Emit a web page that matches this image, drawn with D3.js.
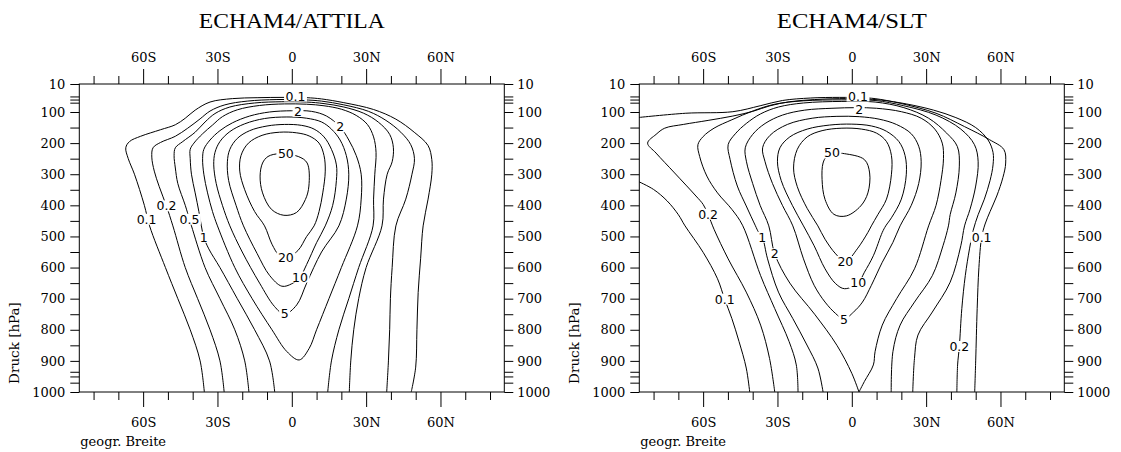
<!DOCTYPE html>
<html>
<head>
<meta charset="utf-8">
<script src="https://cdn.jsdelivr.net/npm/d3@7"></script>
<style>
  body { margin: 0; background: #fff; }
  svg text { fill: #000; }
</style>
</head>
<body>
<svg id="chart" width="1121" height="452"></svg>
<script>
// ---- axis values ----
const latMajor = [-60, -30, 0, 30, 60];
const latMajorLabels = ["60S", "30S", "0", "30N", "60N"];
const latMinor = [-80, -70, -50, -40, -20, -10, 10, 20, 40, 50, 70, 80];
const pressLabels = [10, 100, 200, 300, 400, 500, 600, 700, 800, 900, 1000];
const pressMinor = [50, 60, 70, 150, 250, 350, 450, 550, 650, 750, 850, 935, 950, 970];
const latDomain = [-85.76, 85.76];
const pressDomain = [10, 1000];

// ---- ECHAM4/ATTILA contours: [latitude, pressure hPa] ----
const attila01 = [[-35.3,1000],[-37,900],[-41,800],[-46,700],[-51,600],[-57.4,466],[-59.5,400],[-63.5,300],[-66,250],[-67,215],[-65.5,195],[-61,178],[-53,157],[-47,141],[-43,120],[-39,94],[-33,68],[-24,57],[-14,54],[-3,53],[6,54],[12,58],[21,70],[33,92],[42,123],[49.4,165],[55,208],[56.5,253],[56.5,300],[55,380],[53,466],[52,570],[51,680],[50.5,800],[50,920],[48.2,1000]];
const attila02 = [[-27.3,1000],[-29,900],[-33,800],[-38,700],[-43,600],[-48,466],[-50.6,402],[-53.5,340],[-55.5,290],[-56.5,245],[-56,215],[-53,198],[-47,178],[-42,152],[-37,122],[-33,97],[-27,77],[-18,65],[-6,60],[5,61],[12,65],[21,77],[31,98],[38,127],[44,165],[48,205],[49.5,250],[48.5,300],[46,380],[42,466],[40.5,600],[39.8,700],[39.5,800],[39,900],[38.3,1000]];
const attila05 = [[-17.3,1000],[-19,900],[-23,800],[-29,700],[-35,600],[-40.5,466],[-41.3,445],[-43,400],[-46,330],[-47,280],[-47.5,240],[-47,215],[-44,195],[-39,165],[-35,132],[-31,105],[-25,84],[-15,71],[-4,67],[6,68],[13,73],[21,84],[29,104],[35,133],[39.5,172],[41,215],[40.5,260],[38.5,300],[37,380],[36.4,466],[30,600],[27,700],[25,800],[23.8,900],[23.2,1000]];
const attila1 = [[-6.9,1000],[-9,900],[-15,800],[-22,700],[-29,600],[-33.5,540],[-35.5,503],[-36.5,466],[-37.5,420],[-39,360],[-40.5,300],[-41,250],[-41,220],[-39.5,200],[-36,170],[-32,142],[-28,115],[-22,93],[-13,79],[-3,74],[6,75],[13,80],[20,91],[26,111],[30.5,140],[33,180],[34,230],[33.5,300],[33,380],[32.8,466],[27,600],[23,700],[19,800],[16,900],[14.5,1000]];
const attila2 = [[-30,466],[-32,420],[-34,360],[-35.5,300],[-36,250],[-35.5,220],[-33,190],[-29,160],[-24,135],[-17,113],[-9,100],[0,96],[8,98],[14,113],[19.5,148],[23,190],[26,240],[28,300],[28,380],[26.5,466],[20,600],[15,700],[10,800],[7,860],[3,897],[-2,870],[-8,800],[-16,700],[-23,600]];
const attila5 = [[-25,466],[-28,400],[-30.5,330],[-31.5,270],[-31,230],[-29,195],[-25,163],[-19,138],[-11,121],[-2,116],[6,120],[12,132],[16,155],[19.5,190],[22,240],[23,300],[22,380],[19,466],[12,550],[6,650],[2,720],[-3,750],[-7,725],[-13,650],[-20,550]];
const attila10 = [[-19.5,466],[-22.5,400],[-25.5,320],[-26,260],[-25,220],[-22,185],[-17,160],[-10,145],[-3,140],[4,143],[9,155],[13,180],[16,220],[18,270],[18,320],[16.5,400],[13.5,466],[10,520],[6,590],[3.3,631],[0,652],[-4,660],[-9,625],[-14,555]];
const attila20 = [[-11,466],[-15,420],[-19,350],[-21,290],[-20.5,240],[-17.5,200],[-12,175],[-5,165],[2,167],[7,177],[11,200],[13,240],[13.5,290],[12.5,360],[11,420],[9,466],[6,500],[2.5,545],[-2.4,569],[-5,562],[-8,525]];
const attila50 = [[-9.6,243],[-5,234],[2.6,243],[6.2,264],[6.9,338],[5.5,381],[1.9,423],[-3.2,432],[-8.2,413],[-11.8,360],[-12.8,306],[-11.8,264]];
const attilaLabels = [
  { text: "0.1", lat: -58.6, p: 445 }, { text: "0.2", lat: -50.6, p: 402 },
  { text: "0.5", lat: -41.3, p: 445 }, { text: "1", lat: -35.5, p: 503 },
  { text: "0.1", lat: 1.5, p: 49 }, { text: "2", lat: 2.5, p: 98 },
  { text: "2", lat: 19.5, p: 148 }, { text: "50", lat: -2.4, p: 234 },
  { text: "20", lat: -2.4, p: 569 }, { text: "10", lat: 3.3, p: 631 },
  { text: "5", lat: -2.9, p: 748 }
];

// ---- ECHAM4/SLT contours: [latitude, pressure hPa] ----
const slt01a = [[-86.5,118],[-67,104],[-48,99],[-37,80],[-28,63],[-16.6,55],[-5,53],[4,54],[9.4,57],[19.5,72],[34,104],[45.5,147],[55.6,189],[61.4,221],[62.1,264],[61,310],[58.5,370],[55.8,420],[53.8,460],[52.4,503],[51.3,600],[50.6,732],[50,900],[49.6,1000]];
const slt01b = [[-86.5,322],[-80,349],[-74.5,386],[-70,430],[-67.3,466],[-60,551],[-54.2,636],[-51.3,702],[-48.4,764],[-45.5,838],[-42.6,923],[-41.2,1000]];
const slt02 = [[-31.1,1000],[-33.2,892],[-36.8,785],[-42.6,679],[-49.9,572],[-55.6,477],[-58,429],[-60,397],[-62.9,370],[-71.5,296],[-79,232],[-82.4,200],[-79,172],[-75.5,152],[-68,140],[-58,127],[-48,113],[-40,98],[-33,80],[-25,67],[-15,60],[-5,57],[5,58],[12,62],[22,74],[33,94],[42,118],[50,150],[55,190],[57,230],[57,270],[55.8,320],[53.5,380],[51,430],[49,480],[47.5,540],[45.8,626],[44.4,732],[43.4,854],[42.7,913],[42.4,1000]];
const slt05 = [[-21.7,1000],[-22.4,913],[-25.3,838],[-31.1,732],[-36.8,626],[-44.1,464],[-48.4,413],[-54.2,360],[-58.5,306],[-61.4,243],[-62.1,205],[-60,179],[-55.6,152],[-48.4,125],[-39.7,96],[-31.1,75],[-19.5,64],[-4,61],[9.4,63],[21,80],[34,110],[44,155],[49.5,205],[51,260],[50,338],[47.7,413],[45.5,466],[44,530],[39.7,647],[32.5,743],[26.7,817],[25.3,892],[24.6,1000]];
const slt1 = [[-11.6,1000],[-13.7,923],[-18.1,849],[-23.8,764],[-29.6,679],[-34,572],[-36.1,503],[-37.6,487],[-39,464],[-42.6,402],[-46.2,338],[-49.1,253],[-49.9,205],[-47,170],[-42.6,137],[-36.8,106],[-29.6,84],[-19.5,71],[-4,66],[9.4,68],[21,86],[31,120],[38.3,168],[42.6,211],[43.4,274],[42,360],[39.7,430],[39,466],[36.8,530],[32.5,626],[25.3,711],[19.5,785],[16.6,870],[15.9,1000]];
const slt2 = [[2.9,1000],[0,940],[-6,850],[-15,750],[-25,650],[-31.1,556],[-33.5,466],[-37,400],[-40,330],[-42.5,260],[-43,215],[-40,172],[-35,137],[-28,110],[-19,94],[-8,88],[2,86],[10,88],[20,99],[28,120],[33.5,155],[36.5,200],[37,250],[36,320],[34,400],[31,466],[25.3,604],[18.1,700],[12.3,785],[9.4,870],[8.7,913],[5.1,966],[2.9,1000]];
const slt5 = [[-23.8,466],[-28,400],[-32,330],[-35,260],[-36,215],[-33,175],[-26,140],[-16,120],[-6,114],[3,115],[11,123],[18,140],[24,170],[27,210],[28,260],[27,330],[24,400],[19.5,466],[16.6,519],[12.3,583],[7.9,657],[4.3,711],[0.7,743],[-3.2,766],[-6.5,748],[-10.8,711],[-15.2,657],[-19.5,572]];
const slt10 = [[-19.5,466],[-24,400],[-28.5,320],[-30,260],[-29,215],[-25,180],[-18,155],[-9,142],[0,139],[8,145],[14,162],[19,195],[21.5,240],[22,300],[20,380],[16,440],[13.7,466],[12.3,487],[8.7,562],[5.1,615],[2.6,649],[-2.9,668],[-6.5,652],[-10.8,604],[-15.2,530]];
const slt20 = [[-13.7,466],[-18,410],[-22,340],[-23.5,280],[-22,220],[-18,180],[-12,160],[-4,152],[4,155],[10,168],[14,195],[16,240],[16,300],[14,380],[10.5,430],[7.9,466],[6.5,487],[2.2,540],[-2.6,581],[-6.5,556],[-10.8,509]];
const slt50 = [[-10.1,243],[-6,233],[-2.9,234],[5.1,253],[7.2,296],[6.5,360],[3.6,402],[-2.2,434],[-7.2,429],[-10.8,381],[-12,317],[-11.6,264]];
const sltLabels = [
  { text: "0.1", lat: 2.5, p: 49 }, { text: "2", lat: 3, p: 92 },
  { text: "50", lat: -8, p: 232 }, { text: "0.2", lat: -58, p: 429 },
  { text: "0.1", lat: -51.3, p: 702 }, { text: "1", lat: -36.1, p: 503 },
  { text: "2", lat: -31.1, p: 556 }, { text: "20", lat: -2.6, p: 581 },
  { text: "10", lat: 2.6, p: 649 }, { text: "5", lat: -3.2, p: 766 },
  { text: "0.1", lat: 52.4, p: 503 }, { text: "0.2", lat: 43.4, p: 854 }
];

// ---- layout ----
const svg = d3.select("#chart");
const plotW = 425, plotH = 308, plotTop = 84;
const serif = "'DejaVu Serif', serif";

const panels = [
  { title: "ECHAM4/ATTILA", titleW: 186, left: 79.3, labels: attilaLabels,
    open: [attila01, attila02, attila05, attila1],
    closed: [attila2, attila5, attila10, attila20, attila50] },
  { title: "ECHAM4/SLT", titleW: 150, left: 639.3, labels: sltLabels,
    open: [slt01a, slt01b, slt02, slt05, slt1, slt2],
    closed: [slt5, slt10, slt20, slt50] }
];

panels.forEach((pn, i) => {
  const x = d3.scaleLinear().domain(latDomain).range([pn.left, pn.left + plotW]);
  const y = d3.scaleLinear().domain(pressDomain).range([plotTop, plotTop + plotH]);
  const g = svg.append("g");

  const clipId = "plotclip" + i;
  svg.append("clipPath").attr("id", clipId)
    .append("rect").attr("x", pn.left).attr("y", plotTop)
    .attr("width", plotW).attr("height", plotH);

  // contour lines
  const lineOpen = d3.line().x(d => x(d[0])).y(d => y(d[1]))
    .curve(d3.curveCatmullRom.alpha(0.5));
  const lineClosed = d3.line().x(d => x(d[0])).y(d => y(d[1]))
    .curve(d3.curveCatmullRomClosed.alpha(0.5));
  const cg = g.append("g").attr("clip-path", `url(#${clipId})`)
    .attr("fill", "none").attr("stroke", "#000").attr("stroke-width", 1);
  pn.open.forEach(c => cg.append("path").attr("d", lineOpen(c)));
  pn.closed.forEach(c => cg.append("path").attr("d", lineClosed(c)));

  // contour labels on a white patch that breaks the line
  const lg = g.append("g");
  pn.labels.forEach(l => {
    const t = lg.append("text")
      .attr("x", x(l.lat)).attr("y", y(l.p)).attr("dy", "0.35em")
      .attr("text-anchor", "middle")
      .style("font-family", "'DejaVu Sans', sans-serif").style("font-size", "12.5px")
      .text(l.text);
    const bb = t.node().getBBox();
    lg.insert("rect", "text").attr("x", bb.x - 1.5).attr("y", bb.y + 2)
      .attr("width", bb.width + 3).attr("height", bb.height - 4).attr("fill", "#fff");
  });

  // frame
  g.append("rect").attr("x", pn.left).attr("y", plotTop)
    .attr("width", plotW).attr("height", plotH)
    .attr("fill", "none").attr("stroke", "#000").attr("stroke-width", 1);

  const fmtLat = d => latMajorLabels[latMajor.indexOf(d)];
  const styleAxis = sel => {
    sel.select(".domain").remove();
    sel.selectAll("line").attr("stroke", "#000");
    sel.selectAll("text").style("font-family", serif).style("font-size", "13px").attr("fill", "#000");
  };

  // top latitude axis
  g.append("g").attr("transform", `translate(0,${plotTop})`)
    .call(d3.axisTop(x).tickValues(latMajor).tickFormat(fmtLat).tickSize(15).tickPadding(7))
    .call(styleAxis);
  g.append("g").attr("transform", `translate(0,${plotTop})`)
    .call(d3.axisTop(x).tickValues(latMinor).tickFormat("").tickSize(8))
    .call(styleAxis);
  // bottom latitude axis
  g.append("g").attr("transform", `translate(0,${plotTop + plotH})`)
    .call(d3.axisBottom(x).tickValues(latMajor).tickFormat(fmtLat).tickSize(15).tickPadding(11))
    .call(styleAxis);
  g.append("g").attr("transform", `translate(0,${plotTop + plotH})`)
    .call(d3.axisBottom(x).tickValues(latMinor).tickFormat("").tickSize(8))
    .call(styleAxis);
  // pressure axes, left and right
  g.append("g").attr("transform", `translate(${pn.left},0)`)
    .call(d3.axisLeft(y).tickValues(pressLabels).tickFormat(d3.format("d")).tickSize(9).tickPadding(5))
    .call(styleAxis);
  g.append("g").attr("transform", `translate(${pn.left},0)`)
    .call(d3.axisLeft(y).tickValues(pressMinor).tickFormat("").tickSize(9))
    .call(styleAxis);
  g.append("g").attr("transform", `translate(${pn.left + plotW},0)`)
    .call(d3.axisRight(y).tickValues(pressLabels).tickFormat(d3.format("d")).tickSize(9).tickPadding(4))
    .call(styleAxis);
  g.append("g").attr("transform", `translate(${pn.left + plotW},0)`)
    .call(d3.axisRight(y).tickValues(pressMinor).tickFormat("").tickSize(9))
    .call(styleAxis);

  // titles
  g.append("text").attr("x", pn.left + plotW / 2).attr("y", 28)
    .attr("text-anchor", "middle")
    .attr("textLength", pn.titleW).attr("lengthAdjust", "spacingAndGlyphs")
    .style("font-family", "'Liberation Serif', serif").style("font-size", "20px")
    .text(pn.title);
  g.append("text").attr("x", pn.left + 1).attr("y", 446)
    .style("font-family", serif).style("font-size", "13px")
    .text("geogr. Breite");
  g.append("text")
    .attr("transform", `translate(${pn.left - 60},343) rotate(-90)`)
    .attr("text-anchor", "middle")
    .style("font-family", serif).style("font-size", "13.5px")
    .text("Druck [hPa]");
});
</script>
</body>
</html>
